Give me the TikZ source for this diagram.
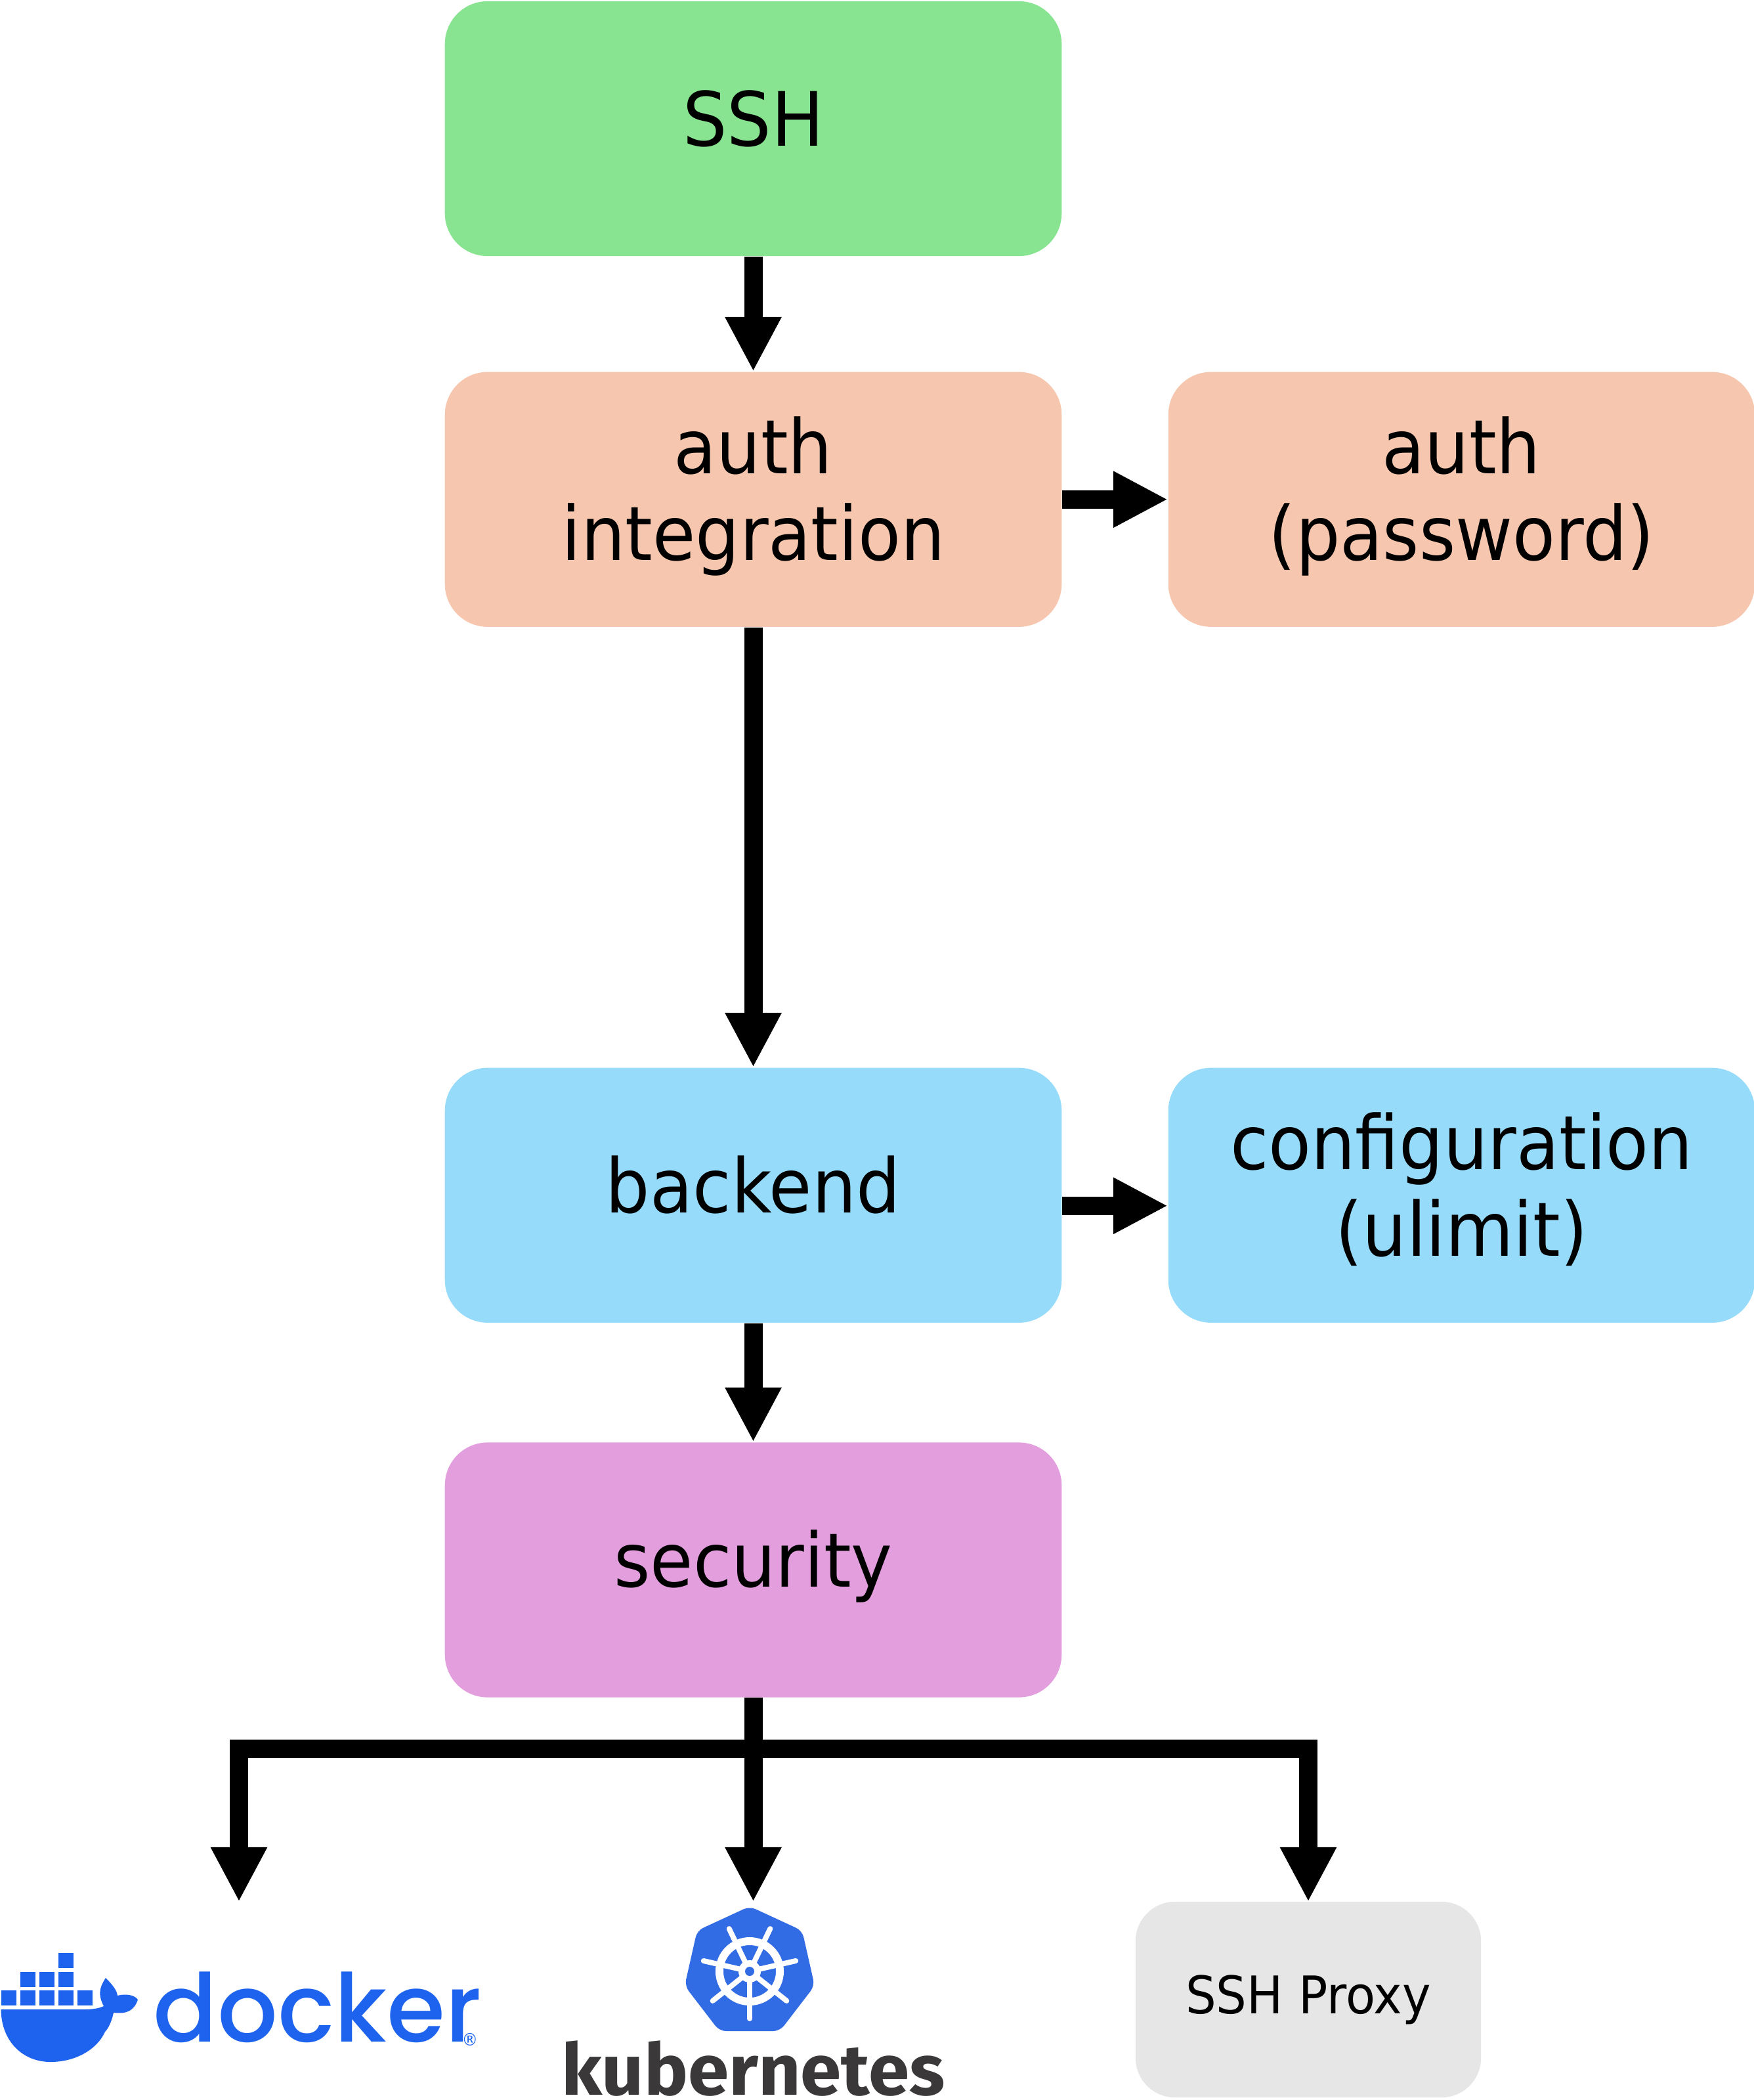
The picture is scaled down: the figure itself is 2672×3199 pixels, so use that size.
\documentclass[tikz,border=0pt]{standalone}
\usepackage{fontspec}
\usepackage{xcolor}
\usetikzlibrary{arrows.meta,positioning}
\setmainfont[FakeStretch=0.93]{DejaVu Sans}
\newfontfamily\dockerfont{Poppins Medium}
\newfontfamily\kubefont[FakeStretch=1.03]{Fira Sans}
\definecolor{kgreen}{HTML}{88E491}
\definecolor{kpeach}{HTML}{F6C6AE}
\definecolor{kblue}{HTML}{97DBFA}
\definecolor{kpink}{HTML}{E39EDD}
\definecolor{kgray}{HTML}{E6E6E6}
\definecolor{kdocker}{HTML}{1D63ED}
\definecolor{kkube}{HTML}{326CE5}
\definecolor{ktext}{HTML}{3A3839}
\newcommand{\lifted}[2]{\raisebox{#1}{\begin{tabular}{@{}c@{}}#2\end{tabular}}}

\begin{document}
\begin{tikzpicture}[x=0.01cm, y=-0.01cm, node distance=1.75cm,
  box/.style={rounded corners=0.65cm, minimum width=9.39cm, minimum height=3.88cm, align=center, inner sep=0pt,
    font=\fontsize{32.5}{37.5}\selectfont},
  sidebox/.style={box, minimum width=8.93cm},
  arr/.style={-{Triangle[length=0.83cm, width=0.8cm]}, line width=0.28cm}]
\useasboundingbox (0,0) rectangle (2672,3199);
\node[box, fill=kgreen] (ssh) at (1147.5,196) {\lifted{0.19cm}{SSH}};
\node[box, fill=kpeach, below=of ssh] (authint) {\lifted{0.02cm}{auth\\integration}};
\node[sidebox, fill=kpeach, right=1.61cm of authint] (authpw) {\lifted{0.02cm}{auth\\(password)}};
\node[box, fill=kblue, below=6.70cm of authint] (backend) {\lifted{0.17cm}{backend}};
\node[sidebox, fill=kblue, right=1.61cm of backend] (config) {\lifted{0.12cm}{configuration\\(ulimit)}};
\node[box, fill=kpink, below=1.81cm of backend] (security) {\lifted{0.13cm}{security}};
\node[fill=kgray, rounded corners=0.6cm, minimum width=5.26cm, minimum height=2.98cm, inner sep=0pt,
  font=\fontsize{22.5}{26}\selectfont] (proxy) at (1993,3046) {SSH Proxy};
\node[inner sep=0pt, anchor=base west, text=kdocker, font=\dockerfont\fontsize{41}{48}\selectfont] (docker) at (233,3110) {docker};
\node[inner sep=0pt, anchor=base west, text=kdocker, font=\fontsize{7.5}{9}\selectfont] (regmark) at (703,3116) {®};
\node[inner sep=0pt, anchor=base west, text=ktext, font=\kubefont\bfseries\fontsize{31}{36}\selectfont] (kube) at (855,3191) {kubernetes};
\coordinate (split) at (security.south |- 0,2664);
\coordinate (dockertip) at (364,2897);
\coordinate (kubetip) at (security.south |- 0,2897);
\coordinate (proxytip) at (1993,2897);
\draw[arr] (ssh) -- (authint);
\draw[arr] (authint) -- (authpw);
\draw[arr] (authint) -- (backend);
\draw[arr] ([yshift=-0.16cm]backend.east) -- ([yshift=-0.16cm]config.west);
\draw[arr] (backend) -- (security);
\draw[arr] (security.south) -- (kubetip);
\draw[arr] (split) -| (dockertip);
\draw[arr] (split) -| (proxytip);
% docker whale
\foreach \cx/\cy in {2/3032,31/3032,60/3032,89/3032,118/3032,31/3004,60/3004,89/3004,89/2975}
  \fill[kdocker] (\cx,\cy) rectangle ++(23,23);
\fill[kdocker] (1.5,3061) -- (128,3061) .. controls (142,3061) and (152,3059) .. (158,3056)
  .. controls (150,3040) and (150,3030) .. (161,3013)
  .. controls (172,3024) and (178,3032) .. (179,3040)
  .. controls (190,3037) and (204,3038) .. (210,3046)
  .. controls (204,3064) and (192,3068) .. (173,3066)
  .. controls (170,3080) and (165,3090) .. (160,3095)
  .. controls (148,3122) and (115,3141) .. (77,3141)
  .. controls (35,3141) and (2,3110) .. (1.5,3061) -- cycle;
% kubernetes wheel
\fill[kkube, rounded corners=0.1cm] (1142,2904) -- (1222,2941) -- (1241,3025) -- (1188,3094) -- (1096,3094) -- (1043,3025) -- (1062,2941) -- cycle;
\draw[white, line width=0.12cm] (1142,3003) circle [radius=0.46cm];
\foreach \ang in {90,141.43,192.86,244.29,295.71,347.14,398.57}
  \draw[white, line width=0.08cm, line cap=round] (1142,3003) -- +(\ang:0.72cm and -0.72cm);
\fill[white] (1142,3003) circle [radius=0.17cm];
\fill[kkube] (1142,3003) circle [radius=0.07cm];
\end{tikzpicture}
\end{document}
